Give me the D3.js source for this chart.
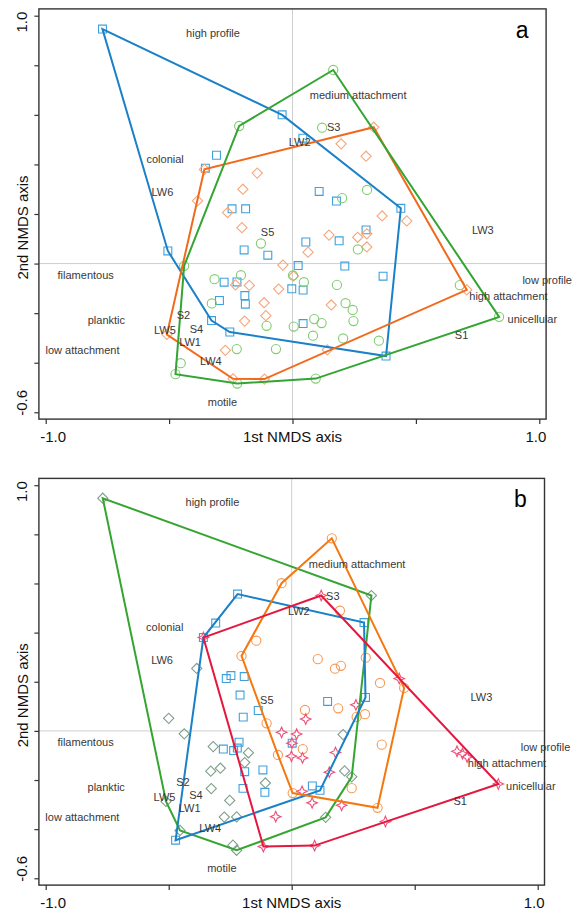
<!DOCTYPE html>
<html>

<head>
  <meta charset="utf-8">
  <title>NMDS ordination</title>
  <script src="https://d3js.org/d3.v7.min.js"></script>
  <style>
    body {
      margin: 0;
      background-color: #fff;
    }

    text {
      font-family: "Liberation Sans", Arial, sans-serif;
    }

    .frame {
      fill: none;
      stroke: #333;
      stroke-width: 1.4;
    }

    .zero {
      stroke: #cfcfcf;
      stroke-width: 1;
    }

    .tick line {
      stroke: #333;
      stroke-width: 1.2;
    }

    .tick text,
    .axisTitle {
      font-size: 15px;
      fill: #111;
    }

    .trait {
      font-size: 11px;
      fill: #383838;
    }

    .hull {
      fill: none;
      stroke-width: 2;
    }

    .mark {
      fill: none;
      stroke-width: 1.1;
    }

    .letter {
      font-size: 23px;
      fill: #000;
    }
  </style>
</head>

<body>
  <div id="chart"></div>
  <script>

    // text labels (trait / site scores), same place in both panels
    var labelText = ["high profile", "medium attachment", "S3", "LW2", "colonial", "LW6", "S5", "LW3",
      "filamentous", "low profile", "high attachment", "unicellular", "S1", "planktic", "S2", "LW5",
      "S4", "LW1", "low attachment", "LW4", "motile"]
    var labelX = [-0.322, 0.266, 0.167, 0.029, -0.516, -0.527, -0.101, 0.771, -0.838, 1.032, 0.875, 0.972,
      0.685, -0.754, -0.442, -0.517, -0.389, -0.415, -0.851, -0.331, -0.284]
    var labelY = [0.931, 0.680, 0.549, 0.488, 0.421, 0.287, 0.125, 0.136, -0.046, -0.068, -0.130, -0.224,
      -0.288, -0.230, -0.210, -0.269, -0.263, -0.316, -0.350, -0.394, -0.560]

    // axis ticks
    var xTicks = [-1.0, -0.5, 0, 0.5, 1.0]
    var yTicks = [1.0, 0.8, 0.6, 0.4, 0.2, 0, -0.2, -0.4, -0.6]

    // panel a : squares
    var aSquares = [[-0.770, 0.946], [-0.042, 0.600], [-0.308, 0.437], [-0.353, 0.385], [-0.245, 0.221],
    [-0.190, 0.221], [-0.505, 0.051], [-0.196, 0.055], [-0.100, 0.034], [-0.277, -0.075], [-0.225, -0.074],
    [-0.296, -0.149], [-0.193, -0.129], [-0.191, -0.164], [-0.328, -0.230], [-0.254, -0.276], [-0.003, -0.102],
    [0.042, 0.506], [0.108, 0.291], [0.178, 0.252], [0.439, 0.223], [0.298, 0.136], [0.189, 0.092],
    [0.054, 0.087], [0.023, -0.008], [0.212, -0.010], [0.367, -0.051], [0.043, -0.107], [0.043, -0.242],
    [0.379, -0.373]]

    // panel a : diamonds
    var aDiamonds = [[-0.357, 0.380], [-0.143, 0.365], [-0.201, 0.300], [-0.385, 0.253], [-0.263, 0.206],
    [-0.205, 0.145], [-0.039, -0.006], [-0.231, -0.086], [-0.175, -0.088], [-0.056, -0.103], [-0.115, -0.158],
    [-0.108, -0.210], [-0.194, -0.232], [-0.509, -0.286], [-0.272, -0.350], [-0.241, -0.465], [-0.114, -0.466],
    [0.004, -0.050], [0.329, 0.550], [0.197, 0.483], [0.298, 0.433], [0.363, 0.192], [0.463, 0.172],
    [0.148, 0.115], [0.264, 0.106], [0.301, 0.120], [0.301, 0.067], [0.063, 0.046], [0.157, -0.167],
    [0.141, -0.348], [0.706, -0.106]]

    // panel a : circles
    var aCircles = [[-0.216, 0.555], [-0.128, 0.081], [-0.439, -0.009], [-0.316, -0.063], [-0.209, -0.047],
    [-0.327, -0.161], [-0.105, -0.251], [-0.226, -0.345], [-0.067, -0.345], [-0.453, -0.402], [-0.474, -0.446],
    [-0.224, -0.484], [0.005, -0.254], [0.165, 0.781], [0.120, 0.548], [0.302, 0.297], [0.201, 0.264],
    [0.265, 0.057], [0.046, -0.075], [0.180, -0.086], [0.215, -0.160], [0.244, -0.187], [0.247, -0.232],
    [0.088, -0.224], [0.118, -0.240], [0.083, -0.291], [0.205, -0.302], [0.350, -0.311], [0.094, -0.464],
    [0.678, -0.087], [0.837, -0.215], [0.002, -0.048]]

    // panel b : diamonds
    var bDiamonds = [[-0.768, 0.947], [-0.386, 0.254], [-0.500, 0.051], [-0.437, -0.012], [-0.319, -0.064],
    [-0.176, -0.089], [-0.191, -0.129], [-0.329, -0.164], [-0.290, -0.152], [-0.327, -0.235], [-0.107, -0.212],
    [-0.252, -0.283], [-0.274, -0.351], [-0.224, -0.350], [-0.511, -0.287], [-0.454, -0.405], [-0.239, -0.465],
    [-0.224, -0.486], [0.324, 0.551], [0.209, -0.015], [0.215, -0.163], [0.244, -0.187], [0.138, -0.352]]

    // panel b : squares
    var bSquares = [[-0.220, 0.557], [-0.309, 0.439], [-0.359, 0.380], [-0.266, 0.213], [-0.247, 0.225],
    [-0.193, 0.221], [-0.210, 0.146], [-0.136, 0.083], [-0.197, 0.056], [-0.278, -0.074], [-0.236, -0.080],
    [-0.221, -0.070], [-0.214, -0.046], [-0.191, -0.166], [-0.117, -0.159], [-0.198, -0.234], [-0.109, -0.250],
    [-0.472, -0.445], [0.294, 0.441], [0.146, 0.120], [0.300, 0.136], [0.002, -0.050], [0.084, -0.224],
    [0.115, -0.242]]

    // panel b : circles
    var bCircles = [[0.163, 0.784], [-0.041, 0.601], [0.196, 0.489], [-0.144, 0.367], [-0.204, 0.305],
    [0.106, 0.292], [0.176, 0.253], [0.200, 0.265], [0.301, 0.298], [0.359, 0.195], [0.457, 0.175],
    [0.054, 0.085], [0.189, 0.092], [0.298, 0.068], [0.264, 0.057], [-0.102, 0.031], [0.366, -0.056],
    [0.045, -0.074], [-0.056, -0.098], [0.244, -0.233], [0.349, -0.313], [0.004, -0.253]]

    // panel b : stars
    var bStars = [[-0.359, 0.380], [0.120, 0.551], [0.437, 0.213], [0.261, 0.106], [0.057, 0.048],
    [-0.041, -0.006], [0.020, -0.013], [0.001, -0.050], [-0.001, -0.103], [0.044, -0.110], [0.178, -0.088],
    [0.153, -0.168], [0.042, -0.246], [0.083, -0.293], [0.203, -0.303], [-0.065, -0.349], [0.381, -0.369],
    [0.093, -0.467], [-0.115, -0.471], [0.672, -0.083], [0.694, -0.092], [0.713, -0.106], [0.840, -0.216]]

    // four pointed star, d3 has no such symbol
    var symbolStar4 = {
      draw: function (context, size) {
        var r = Math.sqrt(size) * 0.75, q = r * 0.3
        context.moveTo(0, -r)
        context.lineTo(q, -q)
        context.lineTo(r, 0)
        context.lineTo(q, q)
        context.lineTo(0, r)
        context.lineTo(-q, q)
        context.lineTo(-r, 0)
        context.lineTo(-q, -q)
        context.closePath()
      }
    }

    var shapes = {
      square: { type: d3.symbolSquare, size: 62, rotate: 0 },
      diamond: { type: d3.symbolSquare, size: 52, rotate: 45 },
      circle: { type: d3.symbolCircle, size: 66, rotate: 0 },
      star: { type: symbolStar4, size: 50, rotate: 0 }
    }

    var panels = [
      {
        letter: "a", xRange: [45.7, 539.3], yRange: [412.3, 15.7],
        groups: [
          { pts: aSquares, shape: "square", mark: "#3ea1dd", line: "#1a80c8" },
          { pts: aDiamonds, shape: "diamond", mark: "#f7a57a", line: "#f2691b" },
          { pts: aCircles, shape: "circle", mark: "#80cc70", line: "#33a532" }
        ]
      },
      {
        letter: "b", xRange: [45.7, 537.7], yRange: [878.3, 485.2],
        groups: [
          { pts: bDiamonds, shape: "diamond", mark: "#7f9f8a", line: "#35a532" },
          { pts: bSquares, shape: "square", mark: "#3ea1dd", line: "#1a80c8" },
          { pts: bCircles, shape: "circle", mark: "#f79a55", line: "#f5780f" },
          { pts: bStars, shape: "star", mark: "#f0507a", line: "#e5173f" }
        ]
      }
    ]

    var pad = 6.8

    var svg = d3.select("#chart")
      .append("svg")
      .attr("width", 583)
      .attr("height", 914)

    panels.forEach(function (p) {
      var x = d3.scaleLinear().domain([-1, 1]).range(p.xRange)
      var y = d3.scaleLinear().domain([-0.6, 1]).range(p.yRange)
      var left = p.xRange[0] - pad, right = p.xRange[1] + pad
      var top = p.yRange[1] - pad, bottom = p.yRange[0] + pad
      var g = svg.append("g")

      // zero lines
      g.append("line").attr("class", "zero")
        .attr("x1", x(0)).attr("x2", x(0)).attr("y1", top).attr("y2", bottom)
      g.append("line").attr("class", "zero")
        .attr("x1", left).attr("x2", right).attr("y1", y(0)).attr("y2", y(0))

      // points
      p.groups.forEach(function (grp) {
        var s = shapes[grp.shape]
        var sym = d3.symbol().type(s.type).size(s.size)
        g.selectAll(null)
          .data(grp.pts)
          .enter()
          .append("path")
          .attr("class", "mark")
          .attr("stroke", grp.mark)
          .attr("transform", function (d) { return "translate(" + x(d[0]) + "," + y(d[1]) + ") rotate(" + s.rotate + ")" })
          .attr("d", sym)
      })

      // hulls
      p.groups.forEach(function (grp) {
        var hull = d3.polygonHull(grp.pts.map(function (d) { return [x(d[0]), y(d[1])] }))
        g.append("path")
          .attr("class", "hull")
          .attr("stroke", grp.line)
          .attr("d", d3.line().curve(d3.curveLinearClosed)(hull))
      })

      // labels
      g.selectAll(null)
        .data(labelText)
        .enter()
        .append("text")
        .attr("class", "trait")
        .attr("text-anchor", "middle")
        .attr("dy", "0.35em")
        .attr("x", function (d, i) { return x(labelX[i]) })
        .attr("y", function (d, i) { return y(labelY[i]) })
        .text(function (d) { return d })

      // frame
      g.append("rect").attr("class", "frame")
        .attr("x", left).attr("y", top)
        .attr("width", right - left).attr("height", bottom - top)

      // x axis
      var xAxis = g.append("g")
        .attr("transform", "translate(0," + bottom + ")")
        .call(d3.axisBottom(x).tickValues(xTicks).tickSize(5)
          .tickFormat(function (d) { return Math.abs(d) === 1 ? d.toFixed(1) : "" }))
      xAxis.select(".domain").remove()
      xAxis.selectAll("text")
        .attr("y", 22.6).attr("dy", 0)
        .attr("dx", function (d) { return d < 0 ? 7 : -4 })

      // y axis
      var yAxis = g.append("g")
        .attr("transform", "translate(" + left + ",0)")
        .call(d3.axisLeft(y).tickValues(yTicks).tickSize(4.5)
          .tickFormat(function (d) { return d === 1 || d === -0.6 ? d.toFixed(1) : "" }))
      yAxis.select(".domain").remove()
      yAxis.selectAll("text")
        .attr("transform", "rotate(-90)")
        .attr("x", function (d) { return d > 0 ? -6 : 10 })
        .attr("y", -12)
        .attr("dy", 0)
        .attr("text-anchor", "middle")

      // axis titles
      g.append("text").attr("class", "axisTitle")
        .attr("text-anchor", "middle")
        .attr("x", x(0)).attr("y", bottom + 22.6)
        .text("1st NMDS axis")
      var cy = (top + bottom) / 2 + 13.5
      g.append("text").attr("class", "axisTitle")
        .attr("text-anchor", "middle")
        .attr("transform", "translate(27.5," + cy + ") rotate(-90)")
        .text("2nd NMDS axis")

      // panel letter
      g.append("text").attr("class", "letter")
        .attr("text-anchor", "middle")
        .attr("x", right - 24)
        .attr("y", top + 29)
        .text(p.letter)
    })

  </script>
</body>

</html>
